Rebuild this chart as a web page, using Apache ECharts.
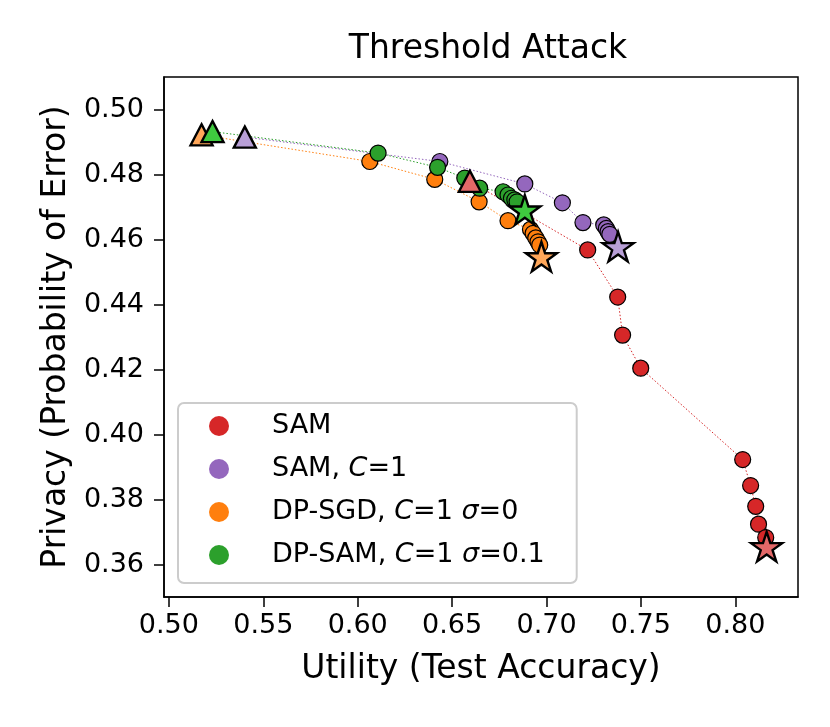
<!DOCTYPE html>
<html>
<head>
<meta charset="utf-8">
<script src="https://cdn.jsdelivr.net/npm/echarts@6/dist/echarts.min.js"></script>
<style>html,body{margin:0;padding:0;background:#fff}#c{width:830px;height:727px}</style>
</head>
<body>
<div id="c"></div>
<script>
// ---- data (Utility = test accuracy, Privacy = probability of error) ----
const seriesNames = ['SAM', 'SAM, C=1', 'DP-SGD, C=1 σ=0', 'DP-SAM, C=1 σ=0.1'];
const xTicks = [0.50, 0.55, 0.60, 0.65, 0.70, 0.75, 0.80];
const yTicks = [0.36, 0.38, 0.40, 0.42, 0.44, 0.46, 0.48, 0.50];

// start points (triangles)
const samStart   = [0.6594, 0.4780];
const samC1Start = [0.5402, 0.4916];
const dpsgdStart = [0.5173, 0.4923];
const dpsamStart = [0.5231, 0.4933];
// end points (stars)
const samEnd   = [0.8166, 0.3656];
const samC1End = [0.7379, 0.4579];
const dpsgdEnd = [0.6973, 0.4548];
const dpsamEnd = [0.6885, 0.4692];

// intermediate points (circles)
const samUtility   = [0.7218, 0.7377, 0.7403, 0.7499, 0.8039, 0.8081, 0.8108, 0.8123, 0.8161];
const samPrivacy   = [0.4569, 0.4424, 0.4307, 0.4205, 0.3924, 0.3844, 0.3780, 0.3725, 0.3684];
const samC1Utility = [0.6435, 0.6885, 0.7084, 0.7193, 0.7303, 0.7317, 0.7326, 0.7335];
const samC1Privacy = [0.4841, 0.4772, 0.4714, 0.4653, 0.4646, 0.4635, 0.4625, 0.4617];
const dpsgdUtility = [0.6064, 0.6408, 0.6643, 0.6796, 0.6915, 0.6929, 0.6943, 0.6955, 0.6964];
const dpsgdPrivacy = [0.4841, 0.4786, 0.4717, 0.4659, 0.4632, 0.4620, 0.4606, 0.4594, 0.4584];
const dpsamUtility = [0.6108, 0.6423, 0.6567, 0.6646, 0.6770, 0.6796, 0.6814, 0.6832, 0.6844];
const dpsamPrivacy = [0.4867, 0.4823, 0.4790, 0.4759, 0.4748, 0.4738, 0.4728, 0.4723, 0.4717];

// ---- styles ----
const circleColors = ['#d62728', '#9467bd', '#ff7f0e', '#2ca02c'];
const markerColors = ['#e36868', '#b89fd6', '#ffa75a', '#3fc93f'];

function starPath() {
  const pts = [];
  for (let i = 0; i < 10; i++) {
    const r = i % 2 === 0 ? 1 : 0.381966;
    const a = -Math.PI / 2 + i * Math.PI / 5;
    pts.push((r * Math.cos(a)).toFixed(4) + ' ' + (r * Math.sin(a)).toFixed(4));
  }
  return 'path://M' + pts.join(' L') + ' Z';
}
const STAR = starPath();

const groups = [
  [samStart, samUtility, samPrivacy, samEnd],
  [samC1Start, samC1Utility, samC1Privacy, samC1End],
  [dpsgdStart, dpsgdUtility, dpsgdPrivacy, dpsgdEnd],
  [dpsamStart, dpsamUtility, dpsamPrivacy, dpsamEnd]
];

const series = [];
groups.forEach((g, k) => {
  const [st, xs, ys, en] = g;
  const mid = xs.map((x, i) => [x, ys[i]]);
  series.push({
    name: seriesNames[k] + ' line', type: 'line', z: 1, silent: true,
    showSymbol: false, symbol: 'none', animation: false,
    data: [st].concat(mid, [en]),
    lineStyle: { color: circleColors[k], width: 1, type: [1.5, 2] }
  });
});
groups.forEach((g, k) => {
  const [st, xs, ys, en] = g;
  series.push({
    name: seriesNames[k], type: 'scatter', z: 2, animation: false,
    symbol: 'circle', symbolSize: 16,
    itemStyle: { color: circleColors[k], borderColor: '#000', borderWidth: 1.2, opacity: 1 },
    data: xs.map((x, i) => [x, ys[i]])
  });
});
groups.forEach((g, k) => {
  const [st, xs, ys, en] = g;
  series.push({
    name: seriesNames[k] + ' start', type: 'scatter', z: 3, animation: false,
    symbol: 'triangle', symbolSize: [22, 21],
    itemStyle: { color: markerColors[k], borderColor: '#000', borderWidth: 2.4, opacity: 1 },
    data: [st]
  });
  series.push({
    name: seriesNames[k] + ' end', type: 'scatter', z: 3, animation: false,
    symbol: STAR, symbolKeepAspect: true, symbolSize: 31,
    itemStyle: { color: markerColors[k], borderColor: '#000', borderWidth: 2.4, opacity: 1 },
    data: [en]
  });
});

const FONT = 'DejaVu Sans';
const chart = echarts.init(document.getElementById('c'), null, { renderer: 'canvas' });
chart.setOption({
  animation: false,
  backgroundColor: '#fff',
  title: {
    text: 'Threshold Attack', left: 483, top: 28, textAlign: 'center',
    textStyle: { fontFamily: FONT, fontSize: 33, fontWeight: 'normal', color: '#000' }
  },
  grid: { left: 164, right: 32, top: 77, bottom: 130, show: true, borderColor: '#000', borderWidth: 1.5, backgroundColor: 'transparent' },
  xAxis: {
    type: 'value', min: 0.4974, max: 0.8332,
    name: 'Utility (Test Accuracy)', nameLocation: 'middle', nameGap: 56,
    nameTextStyle: { fontFamily: FONT, fontSize: 33, color: '#000' },
    axisLine: { show: true, lineStyle: { color: '#000', width: 1.5 } },
    axisTick: { show: true, length: 10, lineStyle: { color: '#000', width: 1.5 }, customValues: xTicks },
    axisLabel: { fontFamily: FONT, fontSize: 27, color: '#000', margin: 15, customValues: xTicks, formatter: v => v.toFixed(2) },
    splitLine: { show: false }
  },
  yAxis: {
    type: 'value', min: 0.3501, max: 0.5101,
    name: 'Privacy (Probability of Error)', nameLocation: 'middle', nameGap: 87, nameRotate: 90,
    nameTextStyle: { fontFamily: FONT, fontSize: 33, color: '#000' },
    axisLine: { show: true, lineStyle: { color: '#000', width: 1.5 } },
    axisTick: { show: true, length: 10, lineStyle: { color: '#000', width: 1.5 }, customValues: yTicks },
    axisLabel: { fontFamily: FONT, fontSize: 27, color: '#000', margin: 20, customValues: yTicks, formatter: v => v.toFixed(2) },
    splitLine: { show: false }
  },
  legend: {
    orient: 'vertical', left: 178, top: 403,
    padding: [8, 32, 13, 31],
    itemWidth: 20, itemHeight: 20, itemGap: 13,
    backgroundColor: 'rgba(255,255,255,0.85)',
    borderColor: '#cccccc', borderWidth: 2, borderRadius: 6,
    data: seriesNames.map((n, k) => ({ name: n, icon: 'circle', itemStyle: { color: circleColors[k], borderWidth: 0 } })),
    formatter: n => n.replace('C=', '{i|C}=').replace('σ', '{i|σ}'),
    textStyle: {
      fontFamily: FONT, fontSize: 27, color: '#000', lineHeight: 30, padding: [0, 0, 0, 38],
      rich: { i: { fontFamily: FONT, fontSize: 27, fontStyle: 'italic', color: '#000', lineHeight: 30 } }
    },
    selectedMode: false
  },
  series: series
});
</script>
</body>
</html>
